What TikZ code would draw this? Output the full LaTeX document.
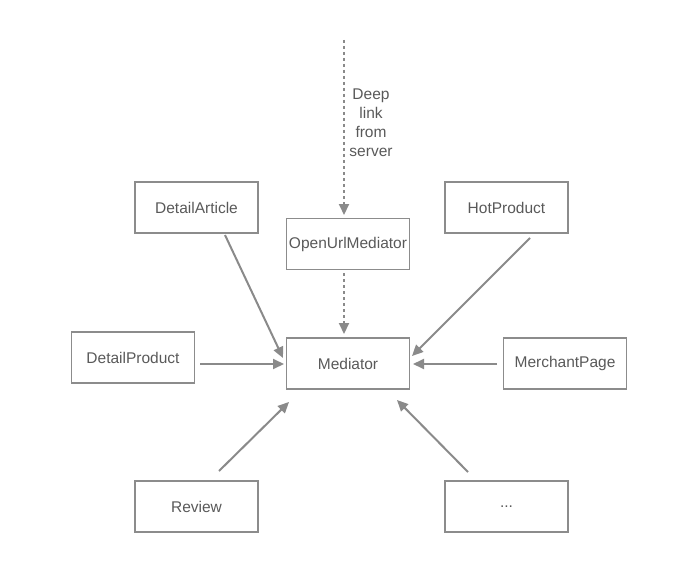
\documentclass[tikz,border=0pt]{standalone}
\usepackage{fontspec}
\setmainfont{Liberation Sans}
\usetikzlibrary{arrows.meta}
\definecolor{boxc}{HTML}{8C8C8C}
\definecolor{arrc}{HTML}{8A8A8A}
\definecolor{txtc}{HTML}{595959}
\tikzset{
  box/.style={draw=boxc, line width=1.2pt, minimum width=123pt, minimum height=51pt, inner sep=0pt, text=txtc, font=\fontsize{15.5}{18}\selectfont},
  conn/.style={draw=arrc, line width=2pt, -{Triangle[length=11pt,width=10pt]}},
  dconn/.style={conn, dash pattern=on 3pt off 3pt}
}
\begin{document}
\begin{tikzpicture}[x=1pt,y=-1pt]
\useasboundingbox (0,0) rectangle (700,572);
\node[box] (art) at (196.5,207.5) {DetailArticle};
\node[box] (open) at (348,244) {OpenUrlMediator};
\node[box] (hot) at (506.5,207.5) {HotProduct};
\node[box] (prod) at (133,357.5) {DetailProduct};
\node[box] (med) at (348,363.5) {Mediator};
\node[box] (merch) at (565,363.5) {MerchantPage};
\node[box] (rev) at (196.5,506.5) {Review};
\node[box] (etc) at (506.5,506.5) {...};
\coordinate (src) at (344,40);
\node[text=txtc, font=\fontsize{15.5}{19}\selectfont, align=center, anchor=north] (lbl) at (371,85) {Deep\\link\\from\\server};
\coordinate (a1s) at (225,235); \coordinate (a1e) at (283,358);
\coordinate (a2s) at (530,238); \coordinate (a2e) at (412,356);
\coordinate (a3s) at (200,364); \coordinate (a3e) at (284,364);
\coordinate (a4s) at (497,364); \coordinate (a4e) at (413,364);
\coordinate (a5s) at (219,471); \coordinate (a5e) at (289,402);
\coordinate (a6s) at (468,472); \coordinate (a6e) at (397,400);
\coordinate (d1e) at (344,215);
\coordinate (d2s) at (344,273); \coordinate (d2e) at (344,334);
\draw[dconn] (src) -- (d1e);
\draw[dconn] (d2s) -- (d2e);
\draw[conn] (a1s) -- (a1e);
\draw[conn] (a2s) -- (a2e);
\draw[conn] (a3s) -- (a3e);
\draw[conn] (a4s) -- (a4e);
\draw[conn] (a5s) -- (a5e);
\draw[conn] (a6s) -- (a6e);
\end{tikzpicture}
\end{document}
